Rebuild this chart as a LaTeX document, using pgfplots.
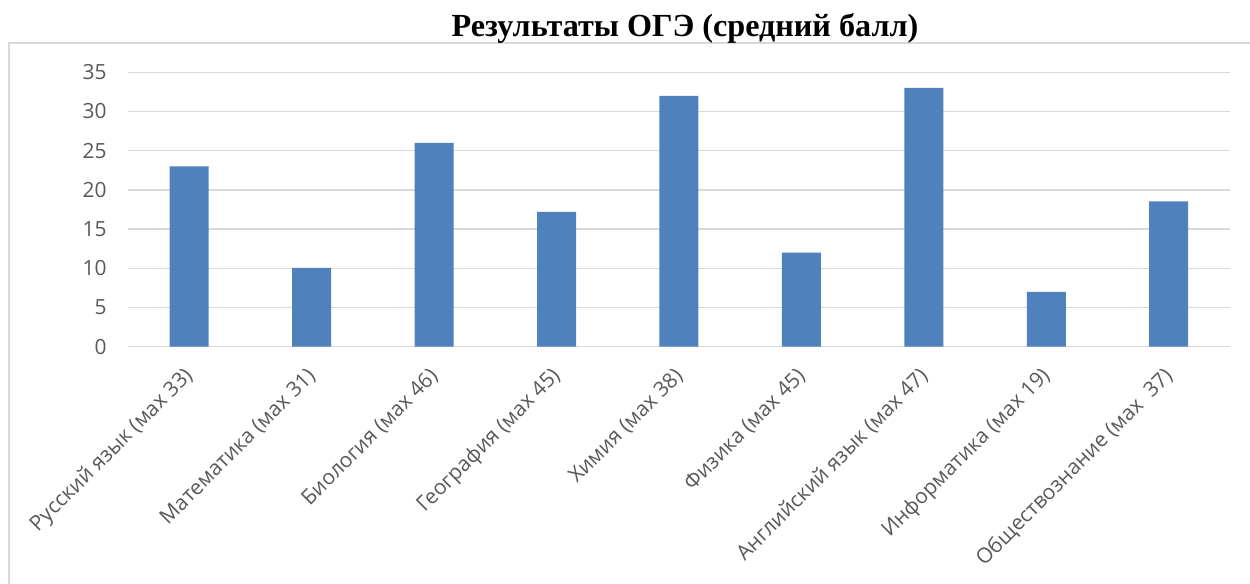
\documentclass[border=0pt]{standalone}
\usepackage{fontspec}
\setmainfont{Open Sans}
\newfontfamily\titlefont{Liberation Serif}
\usepackage{pgfplots}
\pgfplotsset{compat=1.18}
\definecolor{barblue}{HTML}{4F81BD}
\definecolor{gridgray}{HTML}{D9D9D9}
\definecolor{labgray}{HTML}{595959}
\begin{document}
\begin{tikzpicture}
\clip (0bp,0bp) rectangle (1250bp,584bp);
\fill[white] (0bp,0bp) rectangle (1250bp,584bp);
\draw[gridgray, line width=1.2bp] (9bp,-20bp) rectangle (1290bp,541bp);
\node[font=\titlefont\bfseries\fontsize{32.3}{38}\selectfont, anchor=base] at (685bp,547bp) {Результаты ОГЭ (средний балл)};
\begin{axis}[
  at={(128bp,237.3bp)}, anchor=south west,
  scale only axis, width=1102bp, height=274.4bp,
  xmin=-0.5, xmax=8.5, ymin=0, ymax=35,
  ytick={0,5,...,35},
  xtick={0,...,8},
  xticklabels={Русский язык (мах 33),Математика (мах 31),Биология (мах 46),География (мах 45),Химия (мах 38),Физика (мах 45),Английский язык (мах 47),Информатика (мах 19),Обществознание (мах\ \ 37)},
  ymajorgrids, grid style={gridgray, line width=1.3bp},
  axis line style={draw=none},
  major tick length=0pt,
  tick label style={font=\fontsize{21}{25}\selectfont, color=labgray},
  /pgf/number format/assume math mode=true,
  yticklabel style={xshift=-18bp},
  xticklabel style={xshift=3bp, yshift=-24bp, rotate=45, anchor=east},
  ybar, bar width=39bp,
]
\addplot[fill=barblue, draw=none] coordinates {(0,23) (1,10.05) (2,26) (3,17.2) (4,32) (5,12) (6,33) (7,7) (8,18.55)};
\end{axis}
\end{tikzpicture}
\end{document}
